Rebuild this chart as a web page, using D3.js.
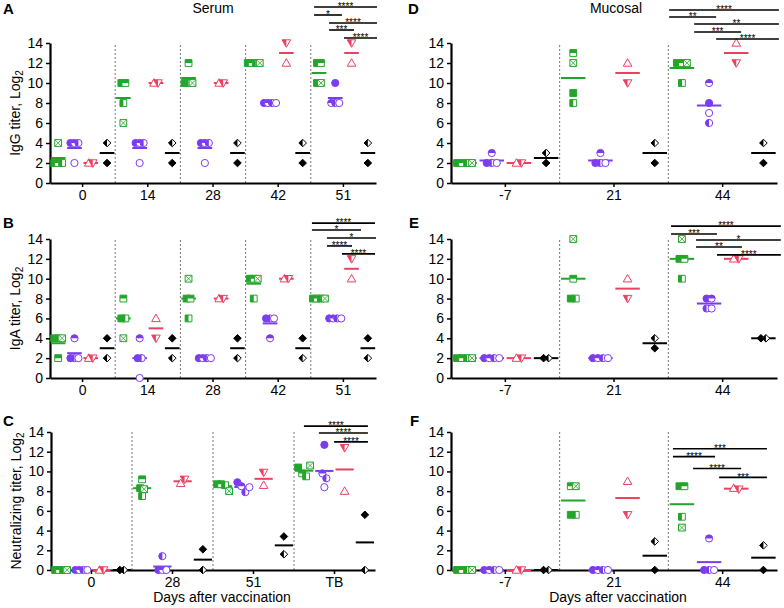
<!DOCTYPE html>
<html><head><meta charset="utf-8">
<script src="https://cdn.jsdelivr.net/npm/d3@7"></script>
<style>body{margin:0;background:#fff}svg{font-family:"Liberation Sans",Arial,Helvetica,sans-serif}</style>
</head><body><svg id="c" width="784" height="608"></svg>
<script>
// ---------------- DATA ----------------
const serumDays = ["0","14","28","42","51"];
const neutSerumDays = ["0","28","51","TB"];
const mucosalDays = ["-7","21","44"];
const yTicks = [0,2,4,6,8,10,12,14];

// green animals: [filled, top-half, left-half, crossed]
// purple animals: [filled, top-half, left-half, open]
// red animals: [up open, down half]
// black animals: [filled, left-half]
// Panel A: serum IgG
const igGSerumGreen  = [[2,2,2,4],[10,10,8,6],[10,12,10,10],[12,12,12,12],[12,12,10,10]];
const igGSerumPurple = [[4,4,4,2],[4,4,4,2],[4,4,4,2],[8,8,8,8],[10,8,8,8]];
const igGSerumRed    = [[2,2],[10,10],[10,10],[12,14],[12,14]];
const igGSerumBlack  = [[2,4],[2,4],[2,4],[2,4],[2,4]];
const igGSerumSig = [
  {from:-0.3, to:3.56, y:17.6, label:"****"},
  {from:-0.3, to:1.41, y:16.8, label:"*"},
  {from:0.62, to:3.56, y:16.0, label:"****"},
  {from:0.62, to:2.15, y:15.3, label:"***"},
  {from:1.54, to:3.56, y:14.5, label:"****"}];

// Panel B: serum IgA
const igASerumGreen  = [[4,2,4,4],[6,8,6,4],[8,8,6,10],[10,10,8,10],[8,8,8,8]];
const igASerumPurple = [[2,4,2,2],[2,4,2,0],[2,2,2,2],[6,4,6,6],[6,6,6,6]];
const igASerumRed    = [[2,2],[6,4],[8,8],[10,10],[10,12]];
const igASerumBlack  = [[4,2],[4,2],[4,2],[4,2],[4,2]];
const igASerumSig = [
  {from:-0.43, to:3.44, y:15.6, label:"****"},
  {from:-0.43, to:2.58, y:14.9, label:"*"},
  {from:0.49, to:3.5, y:14.1, label:"*"},
  {from:0.49, to:2.03, y:13.3, label:"****"},
  {from:1.41, to:3.44, y:12.5, label:"****"}];

// Panel C: serum neutralizing
const neutSerumGreen  = [[0,0,0,0],[8.3,9.2,7.5,8.2],[8.7,8.7,8.6,8.0],[10.4,9.8,9.5,10.6]];
const neutSerumPurple = [[0,0,0,0],[0,0,1.4,0],[8.9,8.5,7.9,8.4],[12.7,9.8,9.3,8.4]];
const neutSerumRed    = [[0,0],[8.8,9.2],[8.6,9.9],[8.0,12.4]];
const neutSerumBlack  = [[0,0],[2.1,0],[3.4,1.6],[5.6,0]];
const neutSerumSig = [
  {from:-0.01, to:3.15, y:14.6, label:"****"},
  {from:0.73, to:3.15, y:13.9, label:"****"},
  {from:1.48, to:3.15, y:13.0, label:"****"}];

// Panel D: mucosal IgG
const igGMucGreen  = [[2,2,2,2],[9,13,8,12],[12,12,10,12]];
const igGMucPurple = [[2,3,2,2],[2,3,2,2],[8,10,6,7]];
const igGMucRed    = [[2,2],[12,10],[14,12]];
const igGMucBlack  = [[2,3],[2,4],[2,4]];
const igGMucSig = [
  {from:-0.47, to:3.57, y:17.3, label:"****"},
  {from:-0.47, to:1.26, y:16.6, label:"**"},
  {from:0.45, to:3.57, y:15.9, label:"**"},
  {from:0.45, to:2.18, y:15.1, label:"***"},
  {from:1.26, to:3.57, y:14.4, label:"****"}];

// Panel E: mucosal IgA
const igAMucGreen  = [[2,2,2,2],[8,10,8,14],[12,12,10,14]];
const igAMucPurple = [[2,2,2,2],[2,2,2,2],[8,8,7,7]];
const igAMucRed    = [[2,2],[10,8],[12,12]];
const igAMucBlack  = [[2,2],[3,4],[4,4]];
const igAMucSig = [
  {from:-0.4, to:3.64, y:15.3, label:"****"},
  {from:-0.4, to:1.29, y:14.5, label:"***"},
  {from:0.52, to:3.64, y:13.9, label:"*"},
  {from:0.52, to:2.21, y:13.2, label:"**"},
  {from:1.29, to:3.64, y:12.4, label:"****"}];

// Panel F: mucosal neutralizing
const neutMucGreen  = [[0,0,0,0],[5.6,8.5,5.6,8.5],[8.5,8.5,5.4,4.3]];
const neutMucPurple = [[0,0,0,0],[0,0,0,0],[0,3.2,0,0]];
const neutMucRed    = [[0,0],[9.0,5.6],[8.3,8.2]];
const neutMucBlack  = [[0,0],[0,2.9],[0,2.5]];
const neutMucSig = [
  {from:-0.33, to:3.13, y:12.3, label:"***"},
  {from:-0.33, to:1.22, y:11.5, label:"****"},
  {from:0.41, to:2.18, y:10.3, label:"****"},
  {from:1.37, to:3.13, y:9.4, label:"***"}];

// ---------------- STYLE ----------------
const seriesStyle = [
  {color:"#22a52a", shapes:["square","square","square","square"], fills:["full","top","left","cross"]},
  {color:"#7b3cf0", shapes:["circle","circle","circle","circle"], fills:["full","top","left","open"]},
  {color:"#ec3f62", shapes:["triUp","triDown"], fills:["open","left"]},
  {color:"#000000", shapes:["diamond","diamond"], fills:["full","left"]}
];
const shapePaths = {
  square: "M-3.4,-3.4h6.8v6.8h-6.8z",
  circle: "M3.6,0A3.6,3.6 0 1,1 -3.6,0A3.6,3.6 0 1,1 3.6,0Z",
  triUp: "M0,-4.3L4.3,3.2L-4.3,3.2Z",
  triDown: "M0,4.3L4.3,-3.2L-4.3,-3.2Z",
  diamond: "M0,-3.8L3.8,0L0,3.8L-3.8,0Z"
};

const svg = d3.select("#c");
const defs = svg.append("defs");
defs.append("clipPath").attr("id","clipL").append("rect").attr("x",-10).attr("y",-10).attr("width",10).attr("height",20);
defs.append("clipPath").attr("id","clipT").append("rect").attr("x",-10).attr("y",-10).attr("width",20).attr("height",10);

function drawSymbol(g, shape, fill, color){
  const d = shapePaths[shape];
  if (fill === "full") {
    g.append("path").attr("d", d).attr("fill", color).attr("stroke", color).attr("stroke-width", 1);
    return;
  }
  g.append("path").attr("d", d).attr("fill", "#fff").attr("stroke", color).attr("stroke-width", 1);
  if (fill === "left" || fill === "top") {
    g.append("path").attr("d", d).attr("fill", color).attr("stroke", "none")
      .attr("clip-path", fill === "left" ? "url(#clipL)" : "url(#clipT)");
  }
  if (fill === "cross") {
    g.append("path").attr("d", "M-3.4,-3.4L3.4,3.4M3.4,-3.4L-3.4,3.4").attr("stroke", color).attr("stroke-width", 0.8);
  }
}

function panel(cfg){
  const g = svg.append("g");
  const x = d3.scaleBand().domain(cfg.days).range([cfg.left, cfg.right]);
  const y = d3.scaleLinear().domain([0,14]).range([cfg.bottom, cfg.top]);
  const step = x.bandwidth() / 4;
  const subX = (day, i) => x(day) + (i + 0.5) * step;

  // separators
  cfg.days.slice(1).forEach(dd => {
    g.append("line").attr("x1", x(dd)).attr("x2", x(dd)).attr("y1", y(0)).attr("y2", y(14))
      .attr("stroke", "#777").attr("stroke-width", 1).attr("stroke-dasharray", "2,2");
  });

  // axes
  const ya = g.append("g").attr("transform", `translate(${cfg.left},0)`)
    .call(d3.axisLeft(y).tickValues(yTicks).tickSize(4).tickSizeOuter(0).tickPadding(3));
  const xa = g.append("g").attr("transform", `translate(0,${cfg.bottom})`)
    .call(d3.axisBottom(x).tickSize(4).tickSizeOuter(0).tickPadding(3));
  [ya, xa].forEach(a => {
    a.attr("font-family", null).attr("font-size", null);
    a.select(".domain").attr("stroke-width", 2.2);
    a.selectAll(".tick line").attr("stroke-width", 1.5);
    a.selectAll(".tick text").attr("font-size", 14).attr("fill", "#000");
  });

  // series
  cfg.series.forEach((ser, si) => {
    const st = seriesStyle[si];
    cfg.days.forEach((day, di) => {
      const vals = ser[di];
      const cx = subX(day, si);
      // mean line
      const m = d3.mean(vals);
      g.append("line").attr("x1", cx - step * 0.45).attr("x2", cx + step * 0.45)
        .attr("y1", y(m)).attr("y2", y(m)).attr("stroke", st.color).attr("stroke-width", 2);
      // cluster overlapping points horizontally
      const idx = vals.map((v, i) => i).sort((a, b) => vals[a] - vals[b]);
      const clusters = [];
      idx.forEach(i => {
        const last = clusters[clusters.length - 1];
        if (last && Math.abs(y(vals[i]) - y(vals[last[last.length - 1]])) < 6) last.push(i);
        else clusters.push([i]);
      });
      clusters.forEach(cl => {
        cl.sort((a, b) => a - b);
        cl.forEach((i, k) => {
          const px = cx + (k - (cl.length - 1) / 2) * cfg.spread;
          const sg = g.append("g").attr("transform", `translate(${px},${y(vals[i])})`);
          drawSymbol(sg, st.shapes[i], st.fills[i], st.color);
        });
      });
    });
  });

  // significance bars
  cfg.sig.forEach(s => {
    const x1 = x(cfg.sigDay) + (s.from + 0.5) * step;
    const x2 = x(cfg.sigDay) + (s.to + 0.5) * step;
    const yy = y(s.y);
    g.append("line").attr("x1", x1).attr("x2", x2).attr("y1", yy).attr("y2", yy)
      .attr("stroke", "#000").attr("stroke-width", 1.6);
    g.append("text").attr("x", (x1 + x2) / 2).attr("y", yy + 3.2).attr("text-anchor", "middle")
      .attr("font-size", 10).text(s.label);
  });

  // panel letter
  g.append("text").attr("x", cfg.letterX).attr("y", cfg.letterY).attr("font-size", 15)
    .attr("font-weight", "bold").text(cfg.letter);

  // y label
  if (cfg.ylabel) {
    const t = g.append("text").attr("transform", `translate(${cfg.ylabelX},${(cfg.top + cfg.bottom) / 2}) rotate(-90)`)
      .attr("text-anchor", "middle").attr("font-size", 14);
    t.append("tspan").text(cfg.ylabel);
    t.append("tspan").attr("font-size", 10).attr("dy", 3).text("2");
  }
  if (cfg.xlabel) {
    g.append("text").attr("x", cfg.xlabelX).attr("y", cfg.bottom + 32).attr("text-anchor", "middle")
      .attr("font-size", 14).text(cfg.xlabel);
  }
}

panel({days: serumDays, left:50, right:376, top:43, bottom:183,
  series:[igGSerumGreen, igGSerumPurple, igGSerumRed, igGSerumBlack],
  sig: igGSerumSig, sigDay:"51", spread:4, letter:"A", letterX:3, letterY:14,
  ylabel:"IgG titer, Log", ylabelX:20});
panel({days: serumDays, left:50, right:376, top:239, bottom:378,
  series:[igASerumGreen, igASerumPurple, igASerumRed, igASerumBlack],
  sig: igASerumSig, sigDay:"51", spread:4, letter:"B", letterX:3, letterY:228,
  ylabel:"IgA titer, Log", ylabelX:20});
panel({days: neutSerumDays, left:51, right:375, top:432, bottom:570,
  series:[neutSerumGreen, neutSerumPurple, neutSerumRed, neutSerumBlack],
  sig: neutSerumSig, sigDay:"TB", spread:4, letter:"C", letterX:3, letterY:426,
  ylabel:"Neutralizing titer, Log", ylabelX:21, xlabel:"Days after vaccination", xlabelX:222});
panel({days: mucosalDays, left:451, right:777, top:43, bottom:183,
  series:[igGMucGreen, igGMucPurple, igGMucRed, igGMucBlack],
  sig: igGMucSig, sigDay:"44", spread:5, letter:"D", letterX:408, letterY:14});
panel({days: mucosalDays, left:451, right:777, top:239, bottom:378,
  series:[igAMucGreen, igAMucPurple, igAMucRed, igAMucBlack],
  sig: igAMucSig, sigDay:"44", spread:5, letter:"E", letterX:409, letterY:228});
panel({days: mucosalDays, left:451, right:777, top:432, bottom:570,
  series:[neutMucGreen, neutMucPurple, neutMucRed, neutMucBlack],
  sig: neutMucSig, sigDay:"44", spread:5, letter:"F", letterX:410, letterY:426,
  xlabel:"Days after vaccination", xlabelX:618});

svg.append("text").attr("x", 213).attr("y", 13).attr("text-anchor", "middle").attr("font-size", 14).text("Serum");
svg.append("text").attr("x", 616).attr("y", 13).attr("text-anchor", "middle").attr("font-size", 14).text("Mucosal");
</script></body></html>
